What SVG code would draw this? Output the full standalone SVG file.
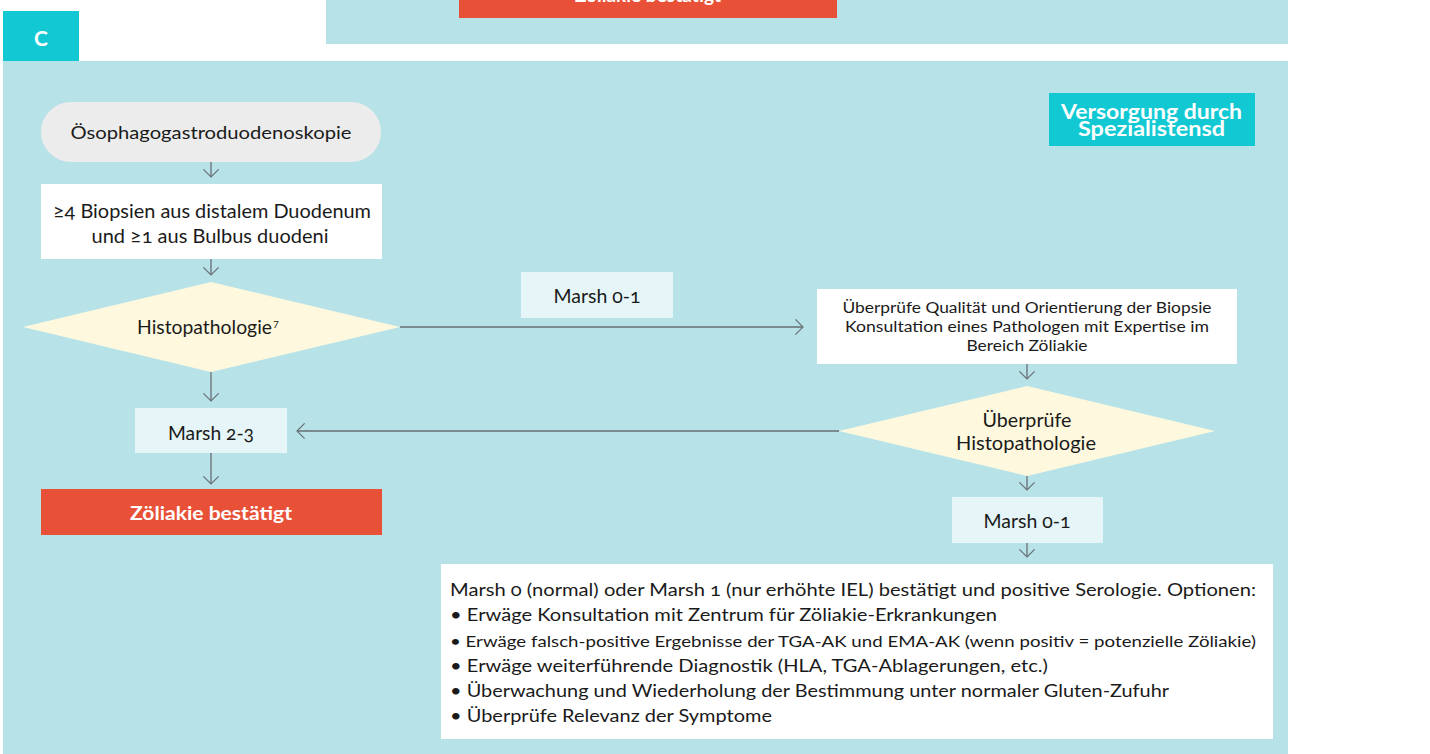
<svg xmlns="http://www.w3.org/2000/svg" width="1430" height="754" viewBox="0 0 1430 754">
  <defs>
    <style>
      .panel { fill: #b7e3e8; }
      .tab { fill: #12c9d3; }
      .pill { fill: #ececec; }
      .box { fill: #ffffff; }
      .label { fill: #e6f5f7; }
      .decision { fill: #fef8de; }
      .alert { fill: #e85137; }
      text { font-family: Lato, "Open Sans", "Liberation Sans", sans-serif; fill: #1a1a1a; }
      .c { text-anchor: middle; }
      .w { fill: #ffffff; font-weight: bold; }
      .num { font-variant-numeric: oldstyle-nums; }
      .edge { stroke: #666e73; stroke-width: 1.3; fill: none; }
    </style>
    <marker id="arr" viewBox="0 0 10 18" refX="9" refY="9" markerWidth="9" markerHeight="17" markerUnits="userSpaceOnUse" orient="auto">
      <path d="M0.5,0.5 L9,9 L0.5,17.5" fill="none" stroke="#666e73" stroke-width="1.3"/>
    </marker>
  </defs>

  <!-- upper panel (previous section, clipped at top) -->
  <g id="upper-panel">
    <rect class="panel" x="326" y="0" width="962" height="44"/>
    <rect class="alert" x="459" y="0" width="378" height="18"/>
    <text class="c w" x="648" y="2" font-size="19">Zöliakie bestätigt</text>
  </g>

  <!-- section tab -->
  <g id="tab-c">
    <rect class="tab" x="3" y="11" width="76" height="51"/>
    <text class="c w" x="41" y="46" font-size="21">C</text>
  </g>

  <!-- main panel -->
  <rect class="panel" x="3" y="61" width="1285" height="693"/>

  <g id="specialist-badge">
    <rect class="tab" x="1049" y="93" width="206" height="53"/>
    <text class="c w" x="1151.5" y="119" font-size="20" textLength="181" lengthAdjust="spacingAndGlyphs">Versorgung durch</text>
    <text class="c w" x="1151.5" y="136" font-size="20" textLength="147" lengthAdjust="spacingAndGlyphs">Spezialistensd</text>
  </g>

  <g id="egd">
    <rect class="pill" x="41" y="102" width="340" height="60" rx="30"/>
    <text class="c" x="211" y="139" font-size="18" textLength="281" lengthAdjust="spacingAndGlyphs">Ösophagogastroduodenoskopie</text>
  </g>

  <g id="biopsies">
    <rect class="box" x="41" y="184" width="341" height="75"/>
    <text class="c" x="212" y="218" font-size="19" textLength="318" lengthAdjust="spacingAndGlyphs">≥<tspan class="num">4</tspan> Biopsien aus distalem Duodenum</text>
    <text class="c" x="210" y="243" font-size="19" textLength="237" lengthAdjust="spacingAndGlyphs">und ≥<tspan class="num">1</tspan> aus Bulbus duodeni</text>
  </g>

  <g id="histopathology">
    <polygon class="decision" points="23,327 211,282 400,327 211,372"/>
    <text x="137" y="334" font-size="19" textLength="135" lengthAdjust="spacingAndGlyphs">Histopathologie</text>
    <text x="273" y="328" font-size="10">7</text>
  </g>

  <g id="marsh-01-label">
    <rect class="label" x="521" y="272" width="152" height="46"/>
    <text class="c num" x="597" y="303" font-size="19" textLength="87" lengthAdjust="spacingAndGlyphs">Marsh 0-1</text>
  </g>

  <g id="marsh-23">
    <rect class="label" x="135" y="408" width="152" height="45"/>
    <text class="c num" x="211" y="440" font-size="19" textLength="86" lengthAdjust="spacingAndGlyphs">Marsh 2-3</text>
  </g>

  <g id="confirmed">
    <rect class="alert" x="41" y="489" width="341" height="46"/>
    <text class="c w" x="211" y="520" font-size="19" textLength="162" lengthAdjust="spacingAndGlyphs">Zöliakie bestätigt</text>
  </g>

  <g id="review-quality">
    <rect class="box" x="817" y="289" width="420" height="75"/>
    <text class="c" x="1027" y="313" font-size="15.5" textLength="369" lengthAdjust="spacingAndGlyphs">Überprüfe Qualität und Orientierung der Biopsie</text>
    <text class="c" x="1027" y="332" font-size="15.5" textLength="364" lengthAdjust="spacingAndGlyphs">Konsultation eines Pathologen mit Expertise im</text>
    <text class="c" x="1027" y="351" font-size="15.5" textLength="121" lengthAdjust="spacingAndGlyphs">Bereich Zöliakie</text>
  </g>

  <g id="review-histopathology">
    <polygon class="decision" points="839,431 1027,386 1215,431 1027,476"/>
    <text class="c" x="1027" y="427" font-size="19" textLength="89" lengthAdjust="spacingAndGlyphs">Überprüfe</text>
    <text class="c" x="1026" y="450" font-size="19" textLength="140" lengthAdjust="spacingAndGlyphs">Histopathologie</text>
  </g>

  <g id="marsh-01-result">
    <rect class="label" x="952" y="497" width="151" height="46"/>
    <text class="c num" x="1027" y="528" font-size="19" textLength="87" lengthAdjust="spacingAndGlyphs">Marsh 0-1</text>
  </g>

  <g id="options">
    <rect class="box" x="441" y="564" width="832" height="175"/>
    <text x="450" y="596" font-size="17.5" textLength="806" lengthAdjust="spacingAndGlyphs">Marsh <tspan class="num">0</tspan> (normal) oder Marsh <tspan class="num">1</tspan> (nur erhöhte IEL) bestätigt und positive Serologie.  Optionen:</text>
    <text x="450" y="621" font-size="17.5" textLength="547" lengthAdjust="spacingAndGlyphs">• Erwäge Konsultation mit Zentrum für Zöliakie-Erkrankungen</text>
    <text x="450" y="647" font-size="16" textLength="806" lengthAdjust="spacingAndGlyphs">• Erwäge falsch-positive Ergebnisse der TGA-AK und EMA-AK (wenn positiv = potenzielle Zöliakie)</text>
    <text x="450" y="672" font-size="17.5" textLength="598" lengthAdjust="spacingAndGlyphs">• Erwäge weiterführende Diagnostik (HLA, TGA-Ablagerungen, etc.)</text>
    <text x="450" y="697" font-size="17.5" textLength="719" lengthAdjust="spacingAndGlyphs">• Überwachung und Wiederholung der Bestimmung unter normaler Gluten-Zufuhr</text>
    <text x="450" y="722" font-size="17.5" textLength="322" lengthAdjust="spacingAndGlyphs">• Überprüfe Relevanz der Symptome</text>
  </g>

  <!-- connectors -->
  <g id="connectors" class="edge" marker-end="url(#arr)">
    <line x1="211" y1="162" x2="211" y2="177"/>
    <line x1="211" y1="259" x2="211" y2="275"/>
    <line x1="211" y1="372" x2="211" y2="401"/>
    <line x1="211" y1="453" x2="211" y2="484"/>
    <line x1="400" y1="327" x2="803" y2="327"/>
    <line x1="839" y1="431" x2="297" y2="431"/>
    <line x1="1027" y1="364" x2="1027" y2="379"/>
    <line x1="1027" y1="476" x2="1027" y2="490"/>
    <line x1="1027" y1="543" x2="1027" y2="557"/>
  </g>
</svg>
